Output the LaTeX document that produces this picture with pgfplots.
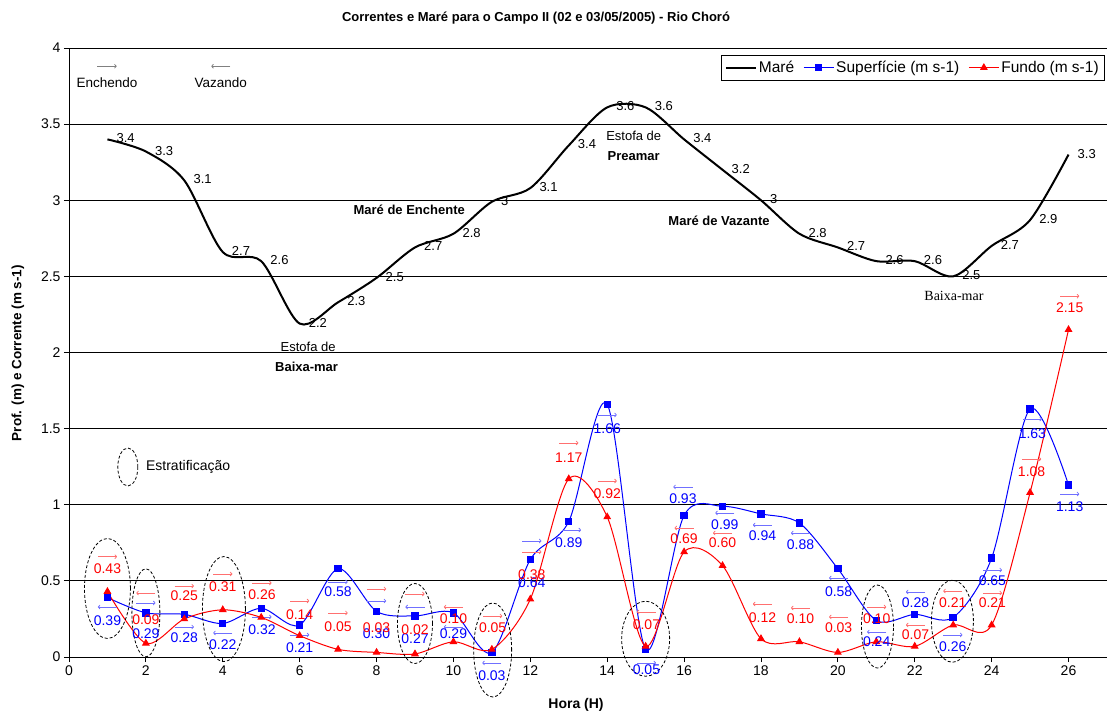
\documentclass[border=0pt]{standalone}
\usepackage{pgfplots}
\pgfplotsset{compat=1.18}
\usepackage{fontspec}
\setmainfont{Liberation Sans}
\newfontfamily\serifb{Liberation Serif}
\usetikzlibrary{arrows.meta}
\newcommand\fs[1]{\fontsize{#1}{#1}\selectfont}
\definecolor{arR}{HTML}{FF7070}
\definecolor{arB}{HTML}{7070FF}
\begin{document}
\begin{tikzpicture}
\begin{axis}[
  scale only axis, width=1038pt, height=609pt,
  xmin=0, xmax=27, ymin=0, ymax=4,
  axis x line*=bottom, axis y line*=left,
  xtick={0,2,4,6,8,10,12,14,16,18,20,22,24,26},
  ytick={0,0.5,1,1.5,2,2.5,3,3.5,4},
  ymajorgrids, grid style={black, line width=0.8pt},
  tick align=outside, major tick length=5pt,
  tick style={black, line width=0.8pt},
  axis line style={black, line width=0.8pt},
  ticklabel style={font=\fs{14}},
  /pgf/number format/assume math mode=true,
  clip=false,
  legend columns=3,
  legend image code/.code={\draw[mark repeat=2,mark phase=2] plot coordinates {(0pt,0pt) (15pt,0pt) (30pt,0pt)};},
  legend style={at={(0.998,0.9885)}, anchor=north east, draw=black, font=\fs{15.5},
    inner xsep=4pt, inner ysep=4pt, /tikz/every even column/.append style={column sep=7pt}},
]
% Tide
\addplot[black, line width=2pt, smooth, mark=none] table[x=x, y=y, row sep=\\] {
x y\\
1 3.40\\ 2 3.32\\ 3 3.13\\ 4 2.66\\ 5 2.60\\ 6 2.19\\ 7 2.33\\ 8 2.49\\ 9 2.69\\ 10 2.78\\
11 2.99\\ 12 3.08\\ 13 3.36\\ 14 3.61\\ 15 3.61\\ 16 3.40\\ 17 3.20\\ 18 3.00\\ 19 2.78\\ 20 2.69\\
21 2.60\\ 22 2.60\\ 23 2.50\\ 24 2.70\\ 25 2.87\\ 26 3.30\\
};
\addlegendentry{Maré}
% Surface
\addplot[blue, line width=1pt, smooth, mark=square*, mark size=3.2pt, mark options={solid}] table[x=x, y=y, row sep=\\] {
x y\\
1 0.39\\ 2 0.29\\ 3 0.28\\ 4 0.22\\ 5 0.32\\ 6 0.21\\ 7 0.58\\ 8 0.30\\ 9 0.27\\ 10 0.29\\
11 0.03\\ 12 0.64\\ 13 0.89\\ 14 1.66\\ 15 0.05\\ 16 0.93\\ 17 0.99\\ 18 0.94\\ 19 0.88\\ 20 0.58\\
21 0.24\\ 22 0.28\\ 23 0.26\\ 24 0.65\\ 25 1.63\\ 26 1.13\\
};
\addlegendentry{Superfície (m s-1)}
% Bottom
\addplot[red, line width=1pt, smooth, mark=triangle*, mark size=3.6pt, mark options={solid}] table[x=x, y=y, row sep=\\] {
x y\\
1 0.43\\ 2 0.09\\ 3 0.25\\ 4 0.31\\ 5 0.26\\ 6 0.14\\ 7 0.05\\ 8 0.03\\ 9 0.02\\ 10 0.10\\
11 0.05\\ 12 0.38\\ 13 1.17\\ 14 0.92\\ 15 0.07\\ 16 0.69\\ 17 0.60\\ 18 0.12\\ 19 0.10\\ 20 0.03\\
21 0.10\\ 22 0.07\\ 23 0.21\\ 24 0.21\\ 25 1.08\\ 26 2.15\\
};
\addlegendentry{Fundo (m s-1)}

% Tide labels
\addplot[forget plot, draw=none, mark=none, nodes near coords, point meta=explicit symbolic,
  every node near coord/.append style={anchor=west, xshift=8pt, yshift=1pt, font=\fs{13}, text=black, inner sep=1pt}]
  table[x=x, y=y, meta=t, row sep=\\] {
x y t\\
1 3.40 3.4\\ 2 3.32 3.3\\ 3 3.13 3.1\\ 4 2.66 2.7\\ 5 2.60 2.6\\ 6 2.19 2.2\\ 7 2.33 2.3\\ 8 2.49 2.5\\ 9 2.69 2.7\\ 10 2.78 2.8\\
11 2.99 3\\ 12 3.08 3.1\\ 13 3.36 3.4\\ 14 3.61 3.6\\ 15 3.61 3.6\\ 16 3.40 3.4\\ 17 3.20 3.2\\ 18 3.00 3\\ 19 2.78 2.8\\ 20 2.69 2.7\\
21 2.60 2.6\\ 22 2.60 2.6\\ 23 2.50 2.5\\ 24 2.70 2.7\\ 25 2.87 2.9\\ 26 3.30 3.3\\
};

% Blue arrows
\addplot[forget plot, arB, line width=0.8pt, -{To[length=2.5pt,width=4.5pt]}, quiver={u=\thisrow{u}, v=0}] table[x=x, y=y, row sep=\\] {
x y u\\
1.25 0.328 -0.5\\ 1.75 0.355 0.5\\ 2.75 0.197 0.5\\ 4.25 0.158 -0.5\\ 4.77 0.263 0.5\\
5.75 0.145 0.5\\ 6.75 0.493 0.5\\ 7.75 0.368 0.5\\ 9.25 0.328 -0.5\\ 10.25 0.197 -0.5\\
11.25 -0.039 -0.5\\ 11.79 0.762 0.5\\ 12.82 0.834 0.5\\ 13.75 1.590 0.5\\ 14.77 -0.039 0.5\\
16.22 1.117 -0.5\\ 17.31 0.946 -0.5\\ 18.29 0.867 -0.5\\ 19.28 0.814 -0.5\\ 20.27 0.519 -0.5\\
21.26 0.164 -0.5\\ 22.27 0.427 -0.5\\ 22.74 0.145 0.5\\ 23.77 0.571 0.5\\ 24.81 1.563 0.5\\
25.78 1.070 0.5\\
};
% Red arrows
\addplot[forget plot, arR, line width=0.8pt, -{To[length=2.5pt,width=4.5pt]}, quiver={u=\thisrow{u}, v=0}] table[x=x, y=y, row sep=\\] {
x y u\\
0.75 0.659 0.5\\ 2.25 0.420 -0.5\\ 2.75 0.466 0.5\\ 3.75 0.545 0.5\\ 4.77 0.486 0.5\\
5.75 0.368 0.5\\ 6.75 0.289 0.5\\ 7.75 0.447 0.5\\ 8.75 0.414 0.5\\ 10.25 0.328 -0.5\\
10.77 0.269 0.5\\ 11.79 0.690 0.5\\ 12.75 1.406 0.5\\ 13.75 1.156 0.5\\ 15.27 0.296 -0.5\\
16.25 0.847 -0.5\\ 17.25 0.814 -0.5\\ 18.29 0.348 -0.5\\ 19.28 0.322 -0.5\\ 20.27 0.263 -0.5\\
20.76 0.328 0.5\\ 22.27 0.210 -0.5\\ 23.24 0.433 -0.5\\ 23.77 0.420 0.5\\ 24.79 1.300 0.5\\
25.78 2.370 0.5\\
};

% Blue labels
\addplot[forget plot, draw=none, mark=none, nodes near coords, point meta=explicit symbolic,
  every node near coord/.append style={anchor=center, font=\fs{14}, text=blue, inner sep=0pt}]
  table[x=x, y=y, meta=t, row sep=\\] {
x y t\\
1.0 0.238 0.39\\ 2.0 0.151 0.29\\ 3.0 0.130 0.28\\ 4.0 0.080 0.22\\ 5.02 0.180 0.32\\
6.0 0.060 0.21\\ 7.0 0.430 0.58\\ 8.0 0.150 0.30\\ 9.0 0.120 0.27\\ 10.0 0.150 0.29\\
11.0 -0.120 0.03\\ 12.04 0.490 0.64\\ 13.0 0.750 0.89\\ 14.0 1.500 1.66\\ 15.02 -0.085 0.05\\
15.97 1.040 0.93\\ 17.06 0.870 0.99\\ 18.04 0.800 0.94\\ 19.03 0.735 0.88\\ 20.02 0.430 0.58\\
21.01 0.100 0.24\\ 22.02 0.355 0.28\\ 22.99 0.066 0.26\\ 24.02 0.500 0.65\\ 25.06 1.470 1.63\\
26.03 0.990 1.13\\
};
% Red labels
\addplot[forget plot, draw=none, mark=none, nodes near coords, point meta=explicit symbolic,
  every node near coord/.append style={anchor=center, font=\fs{14}, text=red, inner sep=0pt}]
  table[x=x, y=y, meta=t, row sep=\\] {
x y t\\
1.0 0.578 0.43\\ 2.0 0.243 0.09\\ 3.0 0.400 0.25\\ 4.0 0.460 0.31\\ 5.02 0.410 0.26\\
6.0 0.276 0.14\\ 7.0 0.197 0.05\\ 8.0 0.190 0.03\\ 9.0 0.180 0.02\\ 10.0 0.250 0.10\\
11.02 0.190 0.05\\ 12.04 0.540 0.38\\ 13.0 1.310 1.17\\ 14.0 1.070 0.92\\ 15.02 0.210 0.07\\
16.0 0.780 0.69\\ 17.0 0.750 0.60\\ 18.04 0.260 0.12\\ 19.03 0.250 0.10\\ 20.02 0.190 0.03\\
21.01 0.250 0.10\\ 22.02 0.145 0.07\\ 22.99 0.355 0.21\\ 24.02 0.355 0.21\\ 25.04 1.220 1.08\\
26.03 2.295 2.15\\
};

% Stratification ellipses
\begin{scope}[dash pattern=on 3pt off 2pt, line width=0.8pt, black]
\draw (axis cs:1.0,0.45) ellipse [x radius=23pt, y radius=50pt];
\draw (axis cs:2.0,0.29) ellipse [x radius=14pt, y radius=44pt];
\draw (axis cs:4.03,0.315) ellipse [x radius=21.5pt, y radius=52.5pt];
\draw (axis cs:9.0,0.22) ellipse [x radius=17.5pt, y radius=40pt];
\draw (axis cs:11.02,0.046) ellipse [x radius=19pt, y radius=47pt];
\draw (axis cs:15.0,0.12) ellipse [x radius=24pt, y radius=37.5pt];
\draw (axis cs:21.03,0.2) ellipse [x radius=16pt, y radius=41.5pt];
\draw (axis cs:22.98,0.235) ellipse [x radius=21pt, y radius=41pt];
\draw (axis cs:1.53,1.248) ellipse [x radius=10pt, y radius=19pt];
\end{scope}
\node[anchor=west, font=\fs{14}, inner sep=0pt] at (axis cs:2.0,1.248) {Estratificação};

% Direction key
\draw[gray, line width=0.8pt, -{To[length=2.5pt,width=4.5pt]}] (axis cs:0.74,3.88) -- (axis cs:1.24,3.88);
\node[font=\fs{13.5}] at (axis cs:0.99,3.77) {Enchendo};
\draw[gray, line width=0.8pt, -{To[length=2.5pt,width=4.5pt]}] (axis cs:4.2,3.88) -- (axis cs:3.7,3.88);
\node[font=\fs{13.5}] at (axis cs:3.95,3.77) {Vazando};

% Annotations
\node[font=\fs{13}] at (axis cs:6.22,2.034) {Estofa de};
\node[font=\bfseries\fs{13}] at (axis cs:6.18,1.907) {Baixa-mar};
\node[font=\bfseries\fs{13}] at (axis cs:8.85,2.94) {Maré de Enchente};
\node[font=\fs{13}] at (axis cs:14.69,3.424) {Estofa de};
\node[font=\bfseries\fs{13}] at (axis cs:14.69,3.293) {Preamar};
\node[font=\bfseries\fs{13}] at (axis cs:16.91,2.864) {Maré de Vazante};
\node[font=\serifb\fs{14}] at (axis cs:23.02,2.373) {Baixa-mar};
\end{axis}
\node[font=\bfseries\fs{13}] at (467pt,639pt) {Correntes e Maré para o Campo II (02 e 03/05/2005) - Rio Choró};
\node[rotate=90, font=\bfseries\fs{13.5}] at (-51pt,304pt) {Prof. (m) e Corrente (m s-1)};
\node[font=\bfseries\fs{14}] at (507pt,-48pt) {Hora (H)};
\pgfresetboundingbox
\path (-69pt,-56pt) rectangle (1040pt,657pt);
\end{tikzpicture}
\end{document}
